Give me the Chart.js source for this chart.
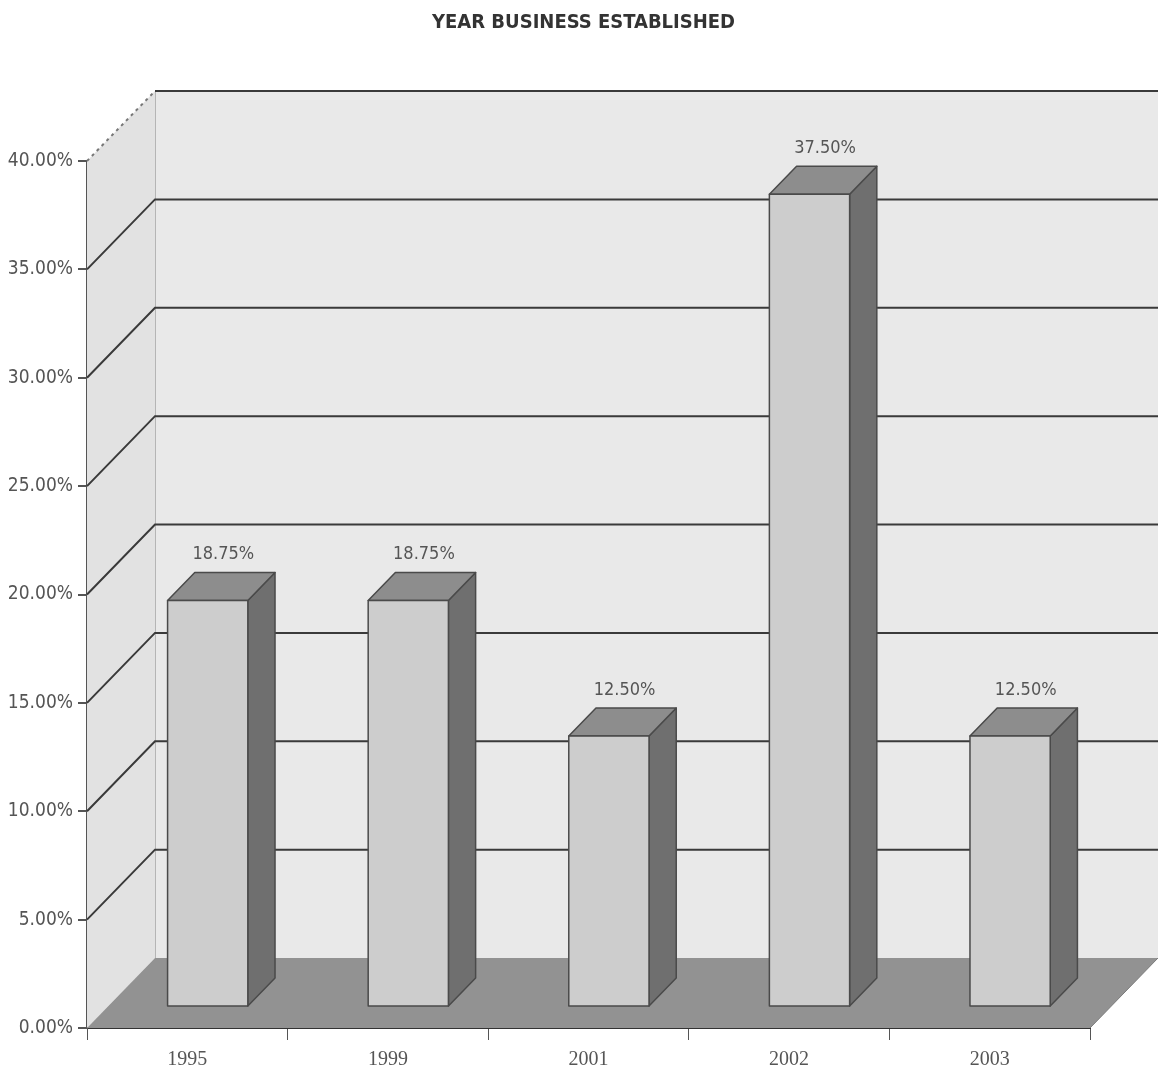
<!DOCTYPE html>
<html>
<head>
<meta charset="utf-8">
<script src="https://cdn.jsdelivr.net/npm/chart.js@4.4.1/dist/chart.umd.min.js"></script>
<style>
  html, body { margin: 0; padding: 0; background: #ffffff; }
  #wrap { width: 1159px; height: 1076px; }
</style>
</head>
<body>
<div id="wrap"><canvas id="year-graph-canvas" width="1159" height="1076"></canvas></div>
<script>
const years = ["1995", "1999", "2001", "2002", "2003"]
const shares = [18.75, 18.75, 12.50, 37.50, 12.50]
const y_ticks = [0, 5, 10, 15, 20, 25, 30, 35, 40]
const chart_title = "YEAR BUSINESS ESTABLISHED"

// depth of the box the bars stand in, and where the bars sit inside it
const depth_x = 68
const depth_y = -70
const bar_front = 0.3
const bar_back = 0.7

function formatPercent(v){
    return v.toFixed(2) + "%"
}

// walls, floor and the receding grid lines
const boxPlugin = {
    id: "box3d",
    beforeDatasetsDraw(chart){
        const ctx = chart.ctx
        const y = chart.scales.y
        const left = chart.chartArea.left
        const right = chart.chartArea.right
        const top = y.getPixelForValue(y_ticks[y_ticks.length - 1])
        const bottom = y.getPixelForValue(0)

        ctx.save()
        // back wall
        ctx.fillStyle = "#e9e9e9"
        ctx.fillRect(left + depth_x, top + depth_y, right - left, bottom - top)
        // left wall
        ctx.fillStyle = "#e2e2e2"
        ctx.beginPath()
        ctx.moveTo(left, top)
        ctx.lineTo(left + depth_x, top + depth_y)
        ctx.lineTo(left + depth_x, bottom + depth_y)
        ctx.lineTo(left, bottom)
        ctx.closePath()
        ctx.fill()

        // back wall edge
        ctx.strokeStyle = "#b5b5b5"
        ctx.lineWidth = 1
        ctx.beginPath()
        ctx.moveTo(left + depth_x + 0.5, top + depth_y)
        ctx.lineTo(left + depth_x + 0.5, bottom + depth_y)
        ctx.stroke()

        // grid lines, the top one runs dotted down the left wall
        ctx.strokeStyle = "#3a3a3a"
        ctx.lineWidth = 2
        y_ticks.forEach(function(t){
            if (t == 0) return
            const py = y.getPixelForValue(t)
            ctx.beginPath()
            if (t == y_ticks[y_ticks.length - 1]){
                ctx.setLineDash([3, 4])
                ctx.strokeStyle = "#777777"
                ctx.moveTo(left, py)
                ctx.lineTo(left + depth_x, py + depth_y)
                ctx.stroke()
                ctx.setLineDash([])
                ctx.strokeStyle = "#3a3a3a"
                ctx.beginPath()
                ctx.moveTo(left + depth_x, py + depth_y)
            } else {
                ctx.moveTo(left, py)
                ctx.lineTo(left + depth_x, py + depth_y)
            }
            ctx.lineTo(right + depth_x, py + depth_y)
            ctx.stroke()
        })

        // floor
        ctx.fillStyle = "#929292"
        ctx.beginPath()
        ctx.moveTo(left, bottom)
        ctx.lineTo(right, bottom)
        ctx.lineTo(right + depth_x, bottom + depth_y)
        ctx.lineTo(left + depth_x, bottom + depth_y)
        ctx.closePath()
        ctx.fill()
        ctx.strokeStyle = "#7a7a7a"
        ctx.lineWidth = 1
        ctx.beginPath()
        ctx.moveTo(right, bottom)
        ctx.lineTo(right + depth_x, bottom + depth_y)
        ctx.stroke()
        ctx.restore()
    },
    afterDatasetsDraw(chart){
        const ctx = chart.ctx
        const meta = chart.getDatasetMeta(0)
        ctx.save()
        meta.data.forEach(function(bar, i){
            const half = bar.width / 2
            const fx = bar.x - half + bar_front * depth_x
            const fw = bar.width
            const fTop = bar.y + bar_front * depth_y
            const fBot = bar.base + bar_front * depth_y
            const dx = (bar_back - bar_front) * depth_x
            const dy = (bar_back - bar_front) * depth_y

            ctx.lineWidth = 1.5
            ctx.strokeStyle = "#4a4a4a"
            ctx.lineJoin = "round"

            // side face
            ctx.fillStyle = "#6f6f6f"
            ctx.beginPath()
            ctx.moveTo(fx + fw, fTop)
            ctx.lineTo(fx + fw + dx, fTop + dy)
            ctx.lineTo(fx + fw + dx, fBot + dy)
            ctx.lineTo(fx + fw, fBot)
            ctx.closePath()
            ctx.fill()
            ctx.stroke()

            // top face
            ctx.fillStyle = "#8d8d8d"
            ctx.beginPath()
            ctx.moveTo(fx, fTop)
            ctx.lineTo(fx + dx, fTop + dy)
            ctx.lineTo(fx + fw + dx, fTop + dy)
            ctx.lineTo(fx + fw, fTop)
            ctx.closePath()
            ctx.fill()
            ctx.stroke()

            // front face
            ctx.fillStyle = "#cdcdcd"
            ctx.fillRect(fx, fTop, fw, fBot - fTop)
            ctx.strokeRect(fx, fTop, fw, fBot - fTop)

            // value label above the box
            ctx.fillStyle = "#555555"
            ctx.font = "18px 'Liberation Sans Narrow', 'DejaVu Sans Condensed', sans-serif"
            ctx.textAlign = "center"
            ctx.textBaseline = "middle"
            ctx.fillText(formatPercent(shares[i]), bar.x + 0.5 * depth_x + 2, bar.y + bar_back * depth_y - 18)
        })
        ctx.restore()
    },
    afterDraw(chart){
        // heading above the box
        const ctx = chart.ctx
        const area = chart.chartArea
        ctx.save()
        ctx.fillStyle = "#333333"
        ctx.font = "bold 20px 'Liberation Sans Narrow', 'DejaVu Sans Condensed', sans-serif"
        ctx.textAlign = "center"
        ctx.textBaseline = "middle"
        ctx.fillText(chart_title, (area.left + area.right) / 2 - 5, 23)
        ctx.restore()
    }
}

const year_graph = document.getElementById("year-graph-canvas")

new Chart(year_graph, {
    type: "bar",
    data: {
        labels: years,
        datasets: [{
            label: "%",
            data: shares,
            backgroundColor: "rgba(0,0,0,0)",
            borderWidth: 0,
            barPercentage: 0.4,
            categoryPercentage: 1.0
        }]
    },
    options: {
        responsive: false,
        animation: false,
        layout: {
            padding: { left: 0, right: 69, top: 161, bottom: 0 }
        },
        plugins: {
            legend: { display: false },
            tooltip: { enabled: false },
            title: { display: false }
        },
        scales: {
            x: {
                afterFit: function(scale){ scale.height = 48 },
                grid: {
                    offset: true,
                    drawOnChartArea: false,
                    tickLength: 12,
                    color: "#555555",
                    lineWidth: 1
                },
                border: { display: true, color: "#333333", width: 2 },
                ticks: {
                    color: "#555555",
                    padding: 8,
                    font: { family: "'Liberation Serif', serif", size: 20 }
                }
            },
            y: {
                min: 0,
                max: 40,
                afterFit: function(scale){ scale.width = 87 },
                afterBuildTicks: function(scale){
                    scale.ticks = y_ticks.map(function(v){ return { value: v } })
                },
                grid: {
                    drawOnChartArea: false,
                    tickLength: 9,
                    color: "#555555",
                    lineWidth: 2
                },
                border: { display: true, color: "#555555", width: 2 },
                ticks: {
                    color: "#555555",
                    padding: 5,
                    font: { family: "'Liberation Sans Narrow', 'DejaVu Sans Condensed', sans-serif", size: 19 },
                    callback: function(v){ return formatPercent(v) }
                }
            }
        }
    },
    plugins: [boxPlugin]
})
</script>
</body>
</html>
